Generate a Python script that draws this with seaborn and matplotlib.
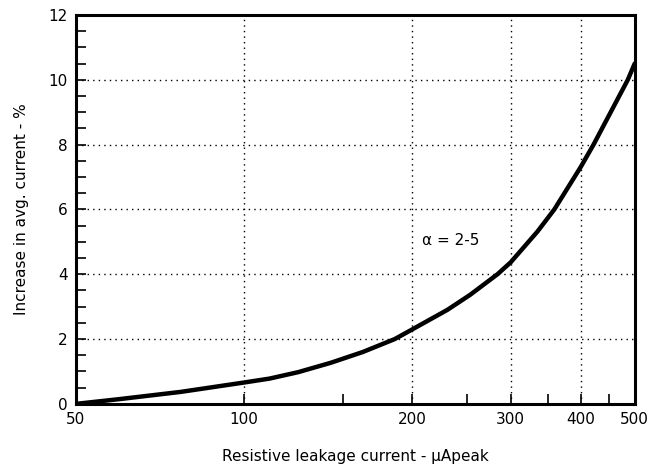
import matplotlib
matplotlib.use("Agg")
import matplotlib.pyplot as plt
import seaborn as sns
import pandas as pd
from matplotlib.ticker import FixedLocator, NullFormatter

current_uA = [50, 60, 77, 100, 111, 125, 143, 163, 186, 200, 231, 254, 284, 300,
              335, 359, 400, 422, 486, 500]
increase_pct = [0.0, 0.15, 0.37, 0.66, 0.78, 0.98, 1.27, 1.6, 2.0, 2.3, 2.9, 3.37,
                4.0, 4.37, 5.32, 6.0, 7.3, 8.0, 10.0, 10.5]
x_major = [50, 100, 200, 300, 400, 500]
x_minor = [150, 250, 350, 450]
y_major = [0, 2, 4, 6, 8, 10, 12]
y_minor = [0.5, 1, 1.5, 2.5, 3, 3.5, 4.5, 5, 5.5, 6.5, 7, 7.5, 8.5, 9, 9.5,
           10.5, 11, 11.5]
annotation = "α = 2-5"

df = pd.DataFrame({"I": current_uA, "inc": increase_pct})

sns.set_theme(style="white")
plt.rcParams["font.family"] = ["DejaVu Sans"]

fig = plt.figure(figsize=(6.55, 4.68), dpi=100)
ax = fig.add_axes([0.116, 0.137, 0.853, 0.831])
sns.lineplot(data=df, x="I", y="inc", ax=ax, color="black", linewidth=3.2)
ax.set_xscale("log")
ax.set_xlim(50, 500)
ax.set_ylim(0, 12)

ax.xaxis.set_major_locator(FixedLocator(x_major))
ax.xaxis.set_minor_locator(FixedLocator(x_minor))
ax.set_xticklabels([str(v) for v in x_major])
ax.xaxis.set_minor_formatter(NullFormatter())
ax.set_yticks(y_major)
ax.set_yticks(y_minor, minor=True)
ax.set_yticklabels([str(v) for v in y_major])

for v in x_major[1:-1]:
    ax.axvline(v, color="black", linestyle=(0, (1, 3)), linewidth=1.0, zorder=0)
for v in y_major[1:-1]:
    ax.axhline(v, color="black", linestyle=(0, (1, 3)), linewidth=1.0, zorder=0)

ax.tick_params(axis="both", which="both", direction="in", top=False, right=False,
               bottom=True, left=True, colors="black", labelsize=11, width=1.2)
ax.tick_params(axis="both", which="major", length=7, pad=6)
ax.tick_params(axis="both", which="minor", length=7)

for s in ax.spines.values():
    s.set_visible(True)
    s.set_color("black")
    s.set_linewidth(2.2)

ax.set_xlabel("Resistive leakage current - μApeak", fontsize=11, labelpad=16, color="black")
ax.set_ylabel("Increase in avg. current - %", fontsize=11, labelpad=14, color="black")

ax.text(234, 5.05, annotation, fontsize=11, ha="center", va="center", color="black")

fig.savefig("out.png", dpi=100, facecolor="white")
